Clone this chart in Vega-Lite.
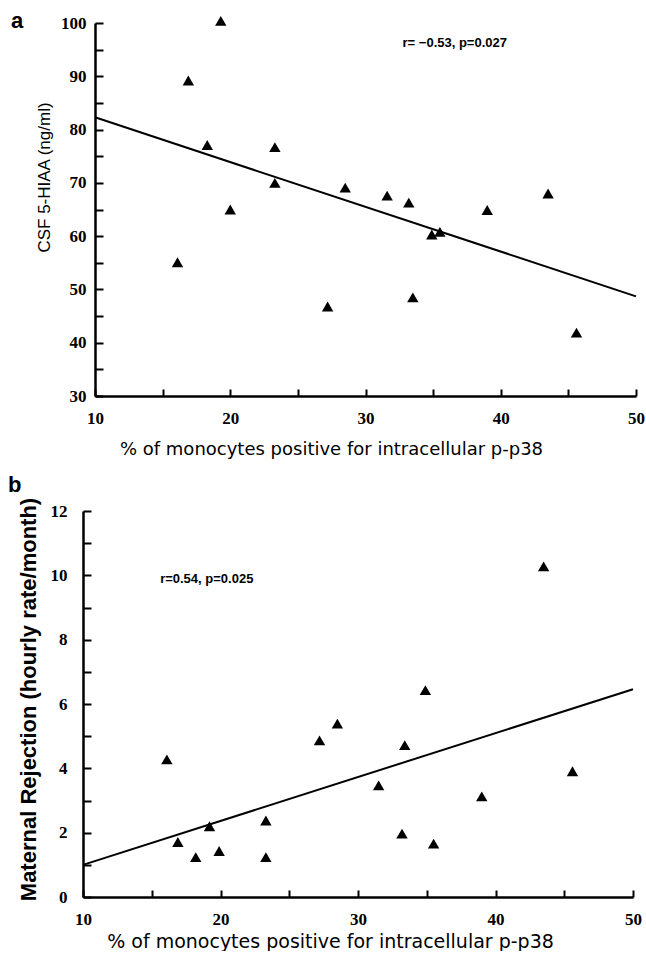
{
  "$schema": "https://vega.github.io/schema/vega-lite/v6.json",
  "background": "white",
  "padding": {"left": 8, "top": 10, "right": 0, "bottom": 0},
  "spacing": 16,
  "config": {
    "view": {"stroke": null},
    "axis": {
      "grid": false,
      "domainColor": "black",
      "domainWidth": 2.5,
      "tickColor": "black",
      "tickWidth": 2,
      "labelColor": "black",
      "titleColor": "black",
      "labelFont": "Liberation Serif",
      "labelFontSize": 17,
      "labelFontWeight": "bold",
      "labelFlush": false,
      "labelOverlap": false
    }
  },
  "datasets": {
    "a_points": [
      {"monocytes_pct": 16.1, "hiaa": 55.1},
      {"monocytes_pct": 16.9, "hiaa": 89.2},
      {"monocytes_pct": 19.3, "hiaa": 100.4},
      {"monocytes_pct": 18.3, "hiaa": 77.1},
      {"monocytes_pct": 20.0, "hiaa": 65.0},
      {"monocytes_pct": 23.3, "hiaa": 76.7},
      {"monocytes_pct": 23.3, "hiaa": 70.0},
      {"monocytes_pct": 27.2, "hiaa": 46.8},
      {"monocytes_pct": 28.5, "hiaa": 69.1},
      {"monocytes_pct": 31.6, "hiaa": 67.6},
      {"monocytes_pct": 33.2, "hiaa": 66.3},
      {"monocytes_pct": 34.9, "hiaa": 60.3},
      {"monocytes_pct": 35.5, "hiaa": 60.8},
      {"monocytes_pct": 33.5, "hiaa": 48.5},
      {"monocytes_pct": 39.0, "hiaa": 64.9},
      {"monocytes_pct": 43.5, "hiaa": 68.0},
      {"monocytes_pct": 45.6, "hiaa": 41.9}
    ],
    "a_fit": [
      {"monocytes_pct": 10, "hiaa": 82.3},
      {"monocytes_pct": 50, "hiaa": 48.7}
    ],
    "a_note": [
      {"monocytes_pct": 36.6, "hiaa": 96.2, "label": "r= −0.53, p=0.027"}
    ],
    "b_points": [
      {"monocytes_pct": 16.1, "rejection": 4.28},
      {"monocytes_pct": 16.9, "rejection": 1.71},
      {"monocytes_pct": 18.2, "rejection": 1.24},
      {"monocytes_pct": 19.2, "rejection": 2.20},
      {"monocytes_pct": 19.9, "rejection": 1.43},
      {"monocytes_pct": 23.3, "rejection": 2.38},
      {"monocytes_pct": 23.3, "rejection": 1.24},
      {"monocytes_pct": 27.2, "rejection": 4.87},
      {"monocytes_pct": 28.5, "rejection": 5.39},
      {"monocytes_pct": 31.5, "rejection": 3.47},
      {"monocytes_pct": 33.2, "rejection": 1.97},
      {"monocytes_pct": 33.4, "rejection": 4.72},
      {"monocytes_pct": 34.9, "rejection": 6.43},
      {"monocytes_pct": 35.5, "rejection": 1.66},
      {"monocytes_pct": 39.0, "rejection": 3.13},
      {"monocytes_pct": 43.5, "rejection": 10.28},
      {"monocytes_pct": 45.6, "rejection": 3.91}
    ],
    "b_fit": [
      {"monocytes_pct": 10, "rejection": 1.0},
      {"monocytes_pct": 50, "rejection": 6.46}
    ],
    "b_note": [
      {"monocytes_pct": 19.0, "rejection": 9.9, "label": "r=0.54, p=0.025"}
    ]
  },
  "vconcat": [
    {
      "width": 553,
      "height": 373,
      "title": {"text": "a", "anchor": "start", "frame": "group", "dx": -72, "offset": -36, "baseline": "alphabetic", "font": "Liberation Sans", "fontSize": 22, "fontWeight": "bold", "color": "black"},
      "encoding": {
        "x": {
          "field": "monocytes_pct", "type": "quantitative",
          "scale": {"domain": [10, 50], "range": [12, 553], "nice": false, "zero": false},
          "axis": {
            "values": [10, 15, 20, 25, 30, 35, 40, 45, 50],
            "labelExpr": "datum.value % 10 === 0 ? datum.label : ''",
            "tickSize": -7,
            "labelPadding": 21,
            "title": "% of monocytes positive for intracellular p-p38",
            "titleFont": "DejaVu Sans",
            "titleFontSize": 18,
            "titleFontWeight": "normal",
            "titleX": 248,
            "titleY": 58,
            "titleAlign": "center",
            "titleBaseline": "alphabetic"
          }
        },
        "y": {
          "field": "hiaa", "type": "quantitative",
          "scale": {"domain": [30, 100], "nice": false, "zero": false},
          "axis": {
            "values": [30, 35, 40, 45, 50, 55, 60, 65, 70, 75, 80, 85, 90, 95, 100],
            "labelExpr": "datum.value % 10 === 0 ? datum.label : ''",
            "offset": -12,
            "tickSize": -8,
            "labelPadding": 17,
            "title": "CSF 5-HIAA (ng/ml)",
            "titleFont": "Liberation Sans",
            "titleFontSize": 17,
            "titleFontWeight": "normal",
            "titleAngle": -90,
            "titleX": -51,
            "titleY": 154,
            "titleAlign": "center",
            "titleBaseline": "middle"
          }
        }
      },
      "layer": [
        {
          "data": {"name": "a_fit"},
          "mark": {"type": "line", "color": "black", "strokeWidth": 2}
        },
        {
          "data": {"name": "a_points"},
          "mark": {"type": "point", "shape": "triangle-up", "filled": true, "color": "black", "opacity": 1, "size": 130}
        },
        {
          "data": {"name": "a_note"},
          "mark": {"type": "text", "font": "Liberation Sans", "fontSize": 13, "fontWeight": "bold", "color": "black", "align": "center", "baseline": "middle"},
          "encoding": {"text": {"field": "label"}}
        }
      ]
    },
    {
      "width": 550,
      "height": 386,
      "title": {"text": "b", "anchor": "start", "frame": "group", "dx": -75, "offset": -17, "baseline": "alphabetic", "font": "Liberation Sans", "fontSize": 22, "fontWeight": "bold", "color": "black"},
      "encoding": {
        "x": {
          "field": "monocytes_pct", "type": "quantitative",
          "scale": {"domain": [10, 50], "nice": false, "zero": false},
          "axis": {
            "values": [10, 15, 20, 25, 30, 35, 40, 45, 50],
            "labelExpr": "datum.value % 10 === 0 ? datum.label : ''",
            "tickSize": -7,
            "labelPadding": 21,
            "title": "% of monocytes positive for intracellular p-p38",
            "titleFont": "DejaVu Sans",
            "titleFontSize": 19,
            "titleFontWeight": "normal",
            "titleX": 247,
            "titleY": 50,
            "titleAlign": "center",
            "titleBaseline": "alphabetic"
          }
        },
        "y": {
          "field": "rejection", "type": "quantitative",
          "scale": {"domain": [0, 12], "nice": false, "zero": false},
          "axis": {
            "values": [0, 1, 2, 3, 4, 5, 6, 7, 8, 9, 10, 11, 12],
            "labelExpr": "datum.value % 2 === 0 ? datum.label : ''",
            "tickSize": -8,
            "labelPadding": 24,
            "title": "Maternal Rejection (hourly rate/month)",
            "titleFont": "Liberation Sans",
            "titleFontSize": 22,
            "titleFontWeight": "bold",
            "titleAngle": -90,
            "titleX": -55,
            "titleY": 188,
            "titleAlign": "center",
            "titleBaseline": "middle"
          }
        }
      },
      "layer": [
        {
          "data": {"name": "b_fit"},
          "mark": {"type": "line", "color": "black", "strokeWidth": 2}
        },
        {
          "data": {"name": "b_points"},
          "mark": {"type": "point", "shape": "triangle-up", "filled": true, "color": "black", "opacity": 1, "size": 130}
        },
        {
          "data": {"name": "b_note"},
          "mark": {"type": "text", "font": "Liberation Sans", "fontSize": 13, "fontWeight": "bold", "color": "black", "align": "center", "baseline": "middle"},
          "encoding": {"text": {"field": "label"}}
        }
      ]
    }
  ]
}
